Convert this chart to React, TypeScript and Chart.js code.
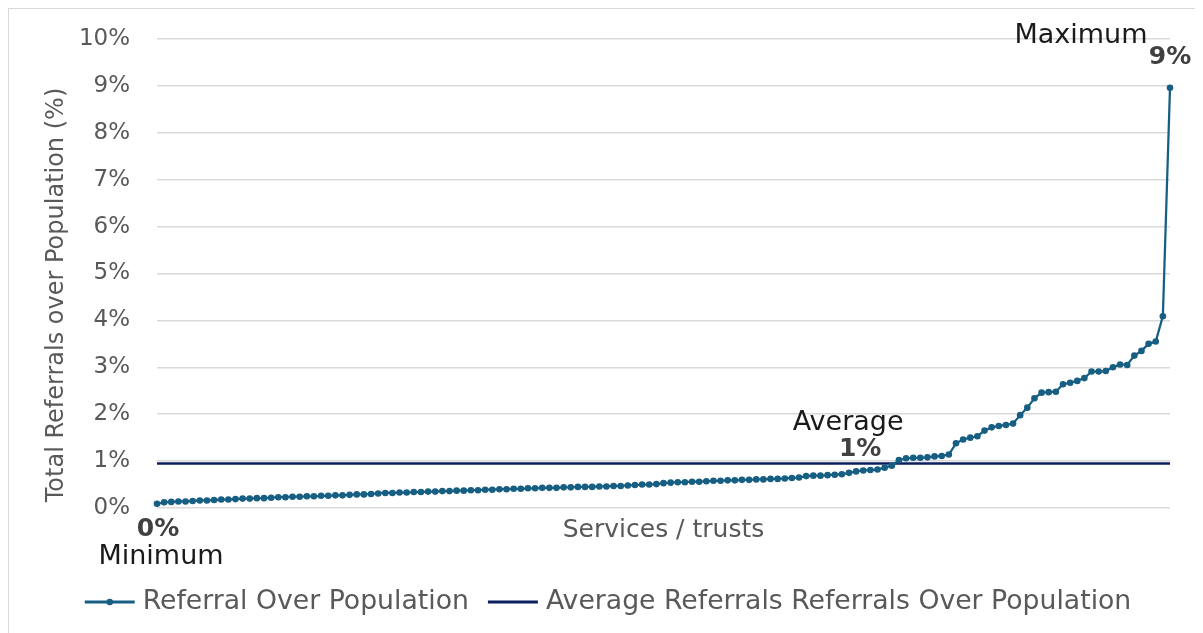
import React, { useEffect, useRef } from 'react';
import { Chart, registerables } from 'chart.js';

Chart.register(...registerables);

// ---- data ----
const referralPct: number[] = [
  0.09, 0.12, 0.13, 0.14, 0.14, 0.15, 0.16, 0.16, 0.17, 0.18,
  0.18, 0.19, 0.20, 0.20, 0.21, 0.21, 0.22, 0.23, 0.23, 0.24,
  0.24, 0.25, 0.25, 0.26, 0.26, 0.27, 0.27, 0.28, 0.29, 0.29,
  0.30, 0.31, 0.32, 0.32, 0.33, 0.33, 0.34, 0.34, 0.35, 0.35,
  0.36, 0.36, 0.37, 0.37, 0.38, 0.38, 0.39, 0.39, 0.40, 0.40,
  0.41, 0.41, 0.42, 0.42, 0.43, 0.43, 0.43, 0.44, 0.44, 0.45,
  0.45, 0.45, 0.46, 0.46, 0.47, 0.47, 0.48, 0.49, 0.50, 0.50,
  0.51, 0.53, 0.54, 0.55, 0.55, 0.56, 0.56, 0.57, 0.58, 0.58,
  0.59, 0.59, 0.60, 0.60, 0.61, 0.61, 0.62, 0.62, 0.63, 0.64,
  0.65, 0.68, 0.69, 0.69, 0.70, 0.71, 0.72, 0.75, 0.78, 0.80,
  0.81, 0.82, 0.86, 0.90, 1.02, 1.06, 1.07, 1.07, 1.08, 1.10,
  1.11, 1.14, 1.38, 1.46, 1.50, 1.53, 1.65, 1.72, 1.75, 1.77,
  1.80, 1.98, 2.14, 2.34, 2.46, 2.47, 2.48, 2.64, 2.67, 2.71,
  2.77, 2.91, 2.91, 2.92, 3.00, 3.06, 3.05, 3.25, 3.35, 3.50,
  3.55, 4.09, 8.96,
];
const averagePct = 0.95;
const categories: string[] = referralPct.map((_, i) => `Service ${i + 1}`);
const averageLine: number[] = categories.map(() => averagePct);

const seriesLabel = 'Referral Over Population';
const averageLabel = 'Average Referrals Referrals Over Population';
const xTitle = 'Services / trusts';
const yTitle = 'Total Referrals over Population (%)';
const minLabel = ['0%', 'Minimum'];
const maxLabel = ['9%', 'Maximum'];
const avgLabel = ['1%', 'Average'];
const avgLabelIndex = 98;

// ---- styles ----
const FONT = '"DejaVu Sans", sans-serif';
const SERIES_COLOR = '#175E83';
const AVG_COLOR = '#0B1F5E';
const GRID_COLOR = '#D9D9D9';
const AXIS_TEXT = '#595959';
const LABEL_TEXT = '#1A1A1A';
const BOLD_TEXT = '#404040';

const W = 1188;
const H = 624;

const overlayPlugin = {
  id: 'overlay',
  afterDraw(chart: any) {
    const ctx: CanvasRenderingContext2D = chart.ctx;
    const area = chart.chartArea;
    const m0 = chart.getDatasetMeta(0);
    const m1 = chart.getDatasetMeta(1);
    const first = m0.data[0];
    const last = m0.data[m0.data.length - 1];
    const avgPt = m1.data[avgLabelIndex];
    ctx.save();
    ctx.textAlign = 'center';
    ctx.textBaseline = 'middle';

    // data labels
    ctx.font = `bold 25px ${FONT}`;
    ctx.fillStyle = BOLD_TEXT;
    ctx.fillText(minLabel[0], first.x + 1, first.y + 26);
    ctx.fillText(maxLabel[0], last.x, last.y - 30);
    ctx.fillText(avgLabel[0], avgPt.x + 4, avgPt.y - 14);
    ctx.font = `27px ${FONT}`;
    ctx.fillStyle = LABEL_TEXT;
    ctx.fillText(minLabel[1], first.x + 4, first.y + 53);
    ctx.fillText(maxLabel[1], last.x - 89, last.y - 52);
    ctx.fillText(avgLabel[1], avgPt.x - 8, avgPt.y - 40);

    // x title
    ctx.font = `25px ${FONT}`;
    ctx.fillStyle = AXIS_TEXT;
    ctx.fillText(xTitle, (area.left + area.right) / 2, area.bottom + 22);

    // y title
    ctx.save();
    ctx.translate(48, 286);
    ctx.rotate(-Math.PI / 2);
    ctx.font = `24px ${FONT}`;
    ctx.fillText(yTitle, 0, 0);
    ctx.restore();

    // legend
    const items = [
      { text: seriesLabel, color: SERIES_COLOR, dot: true, lw: 3 },
      { text: averageLabel, color: AVG_COLOR, dot: false, lw: 3 },
    ];
    ctx.font = `26.7px ${FONT}`;
    const symW = 50, gapT = 8, gapItem = 19;
    const widths = items.map((it) => ctx.measureText(it.text).width);
    const total = widths.reduce((a, b) => a + b, 0) + items.length * (symW + gapT) + gapItem * (items.length - 1);
    let x = 599 - total / 2;
    const y = 593;
    ctx.textAlign = 'left';
    items.forEach((it, i) => {
      ctx.strokeStyle = it.color;
      ctx.lineWidth = it.lw;
      ctx.beginPath();
      ctx.moveTo(x, y);
      ctx.lineTo(x + symW, y);
      ctx.stroke();
      if (it.dot) {
        ctx.fillStyle = it.color;
        ctx.beginPath();
        ctx.arc(x + symW / 2, y, 3.3, 0, Math.PI * 2);
        ctx.fill();
      }
      ctx.fillStyle = AXIS_TEXT;
      ctx.fillText(it.text, x + symW + gapT, y);
      x += symW + gapT + widths[i] + gapItem;
    });
    ctx.restore();
  },
};

export default function App() {
  const ref = useRef<HTMLCanvasElement | null>(null);
  useEffect(() => {
    if (!ref.current) return;
    const chart = new Chart(ref.current, {
      type: 'line',
      data: {
        labels: categories,
        datasets: [
          {
            label: seriesLabel,
            data: referralPct,
            borderColor: SERIES_COLOR,
            backgroundColor: SERIES_COLOR,
            borderWidth: 2.25,
            pointRadius: 3.3,
            pointBackgroundColor: SERIES_COLOR,
            pointBorderWidth: 0,
            pointHoverRadius: 3.3,
            tension: 0,
            clip: false as any,
          },
          {
            label: averageLabel,
            data: averageLine,
            borderColor: AVG_COLOR,
            backgroundColor: AVG_COLOR,
            borderWidth: 2.5,
            pointRadius: 0,
            pointHoverRadius: 0,
            tension: 0,
          },
        ],
      },
      options: {
        animation: false,
        responsive: false,
        devicePixelRatio: 1,
        layout: { padding: { left: 0, top: 30, right: 27, bottom: 125 } },
        plugins: {
          legend: { display: false },
          tooltip: { enabled: false },
          title: { display: false },
        },
        scales: {
          x: { display: false },
          y: {
            min: 0,
            max: 10,
            ticks: {
              stepSize: 1,
              callback: (v: any) => `${v}%`,
              color: AXIS_TEXT,
              font: { family: FONT, size: 23 },
              padding: 0,
            },
            grid: {
              color: GRID_COLOR,
              lineWidth: 1.5,
              drawTicks: true,
              tickLength: 27,
              tickColor: 'rgba(0,0,0,0)',
            },
            border: { display: false },
            afterFit: (scale: any) => {
              scale.width = 148;
            },
          },
        },
      },
      plugins: [overlayPlugin],
    });
    return () => chart.destroy();
  }, []);

  return (
    <div style={{ width: W, height: H, border: `1px solid ${GRID_COLOR}`, background: '#fff' }}>
      <canvas ref={ref} width={W} height={H} style={{ display: 'block', width: W, height: H }} />
    </div>
  );
}
